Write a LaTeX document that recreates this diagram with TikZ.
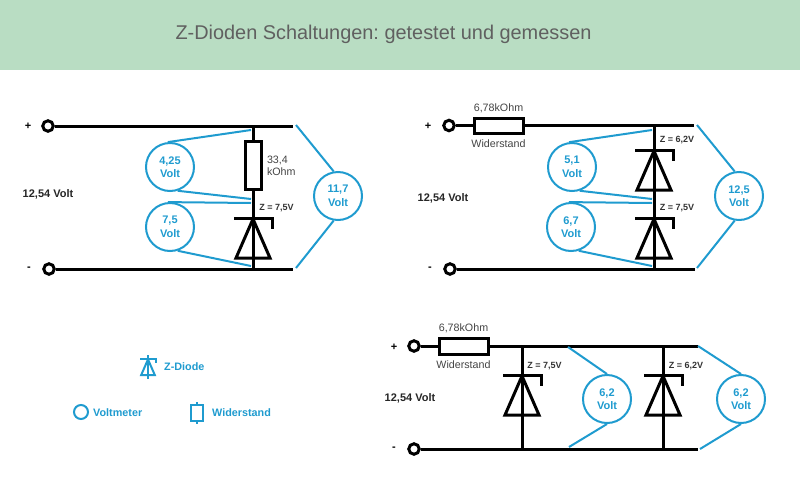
\documentclass[tikz,border=0pt]{standalone}
\usepackage{fontspec}
\setmainfont{Liberation Sans}
\usepackage{xcolor}
\usetikzlibrary{positioning, arrows.meta}
\definecolor{headgreen}{HTML}{B9DDC3}
\definecolor{meterblue}{HTML}{1F9BCF}
\definecolor{textgray}{HTML}{444444}
\frenchspacing

\begin{document}
\begin{tikzpicture}[
    x=1pt, y=-1pt,
    node distance=2pt,
    wire/.style={draw=black, line width=3pt},
    resistor/.style={rectangle, draw=black, line width=3pt, fill=white, inner sep=0pt},
    terminal/.style={circle, draw=black, line width=3pt, fill=white, inner sep=0pt, minimum size=10.5pt},
    meter/.style={circle, draw=meterblue, line width=2pt, inner sep=0pt, minimum size=48pt, align=center, text=meterblue,
        font=\fontsize{11}{13.5}\selectfont\bfseries},
    probe/.style={draw=meterblue, line width=2pt},
    sign/.style={font=\fontsize{11}{12}\selectfont\bfseries},
    supply/.style={font=\fontsize{11}{12}\selectfont\bfseries, text=black!85},
    zlabel/.style={font=\fontsize{9}{10}\selectfont\bfseries, text=black!80},
    rlabel/.style={font=\fontsize{10.7}{12}\selectfont, text=textgray, align=left},
    legend/.style={font=\fontsize{10.8}{12}\selectfont\bfseries, text=meterblue, inner sep=0pt},
    pics/zdiode/.style={code={
        \draw (-19,0) -- (19,0) -- (19,11);
        \draw (0,1) -- (17,40) -- (-17,40) -- cycle;
    }}
]
    % Header
    \path[fill=headgreen] (0,0) rectangle (800,70);
    \path[use as bounding box] (0,0) rectangle (800,485);
    \node[font=\fontsize{19.9}{22}\selectfont, text=textgray!85] (title) at (383.5,34) {Z-Dioden Schaltungen: getestet und gemessen};

    % Circuit top left
    \node[terminal] (a1) at (48,126) {};
    \node[terminal] (a2) at (49,269) {};
    \coordinate (a1end) at (293,125);
    \coordinate (a2end) at (293,269);
    \coordinate (a1t) at (253,125);
    \coordinate (a2t) at (253,269);
    \draw[wire] (a1) -- (a1 -| a1end) (a2) -- (a2 -| a2end);
    \draw[wire] (a1t) -- (a2t);
    \node[resistor, minimum width=16pt, minimum height=48pt] (ar) at (253,165) {};
    \pic[line width=3pt, line join=miter] at (253,218) {zdiode};
    \node[sign] (aplus) at (28,126) {+};
    \node[sign] (aminus) at (29,269) {-};
    \node[supply] (asupply) at (48,194) {12,54 Volt};
    \node[rlabel, right=1pt of ar, yshift=-1pt] (arlabel) {33,4\\kOhm};
    \node[zlabel] (az) at (276.5,208) {Z = 7,5V};
    \node[meter] (av1) at (170,167) {4,25\\Volt};
    \node[meter] (av2) at (170,227) {7,5\\Volt};
    \node[meter] (av3) at (338,196) {11,7\\Volt};
    \coordinate (ap1) at (251,130);
    \coordinate (ap2) at (251,199);
    \coordinate (ap3) at (251,203);
    \coordinate (ap4) at (251,266);
    \coordinate (ap5) at (296,125);
    \coordinate (ap6) at (296,268);
    \draw[probe] (av1.95) -- (ap1);
    \draw[probe] (av1.-72) -- (ap2);
    \draw[probe] (av2.95) -- (ap3);
    \draw[probe] (av2.-72) -- (ap4);
    \draw[probe] (av3.100) -- (ap5);
    \draw[probe] (av3.-100) -- (ap6);

    % Circuit top right
    \node[terminal] (b1) at (449,125.5) {};
    \node[terminal] (b2) at (450,269) {};
    \node[resistor, minimum width=49pt, minimum height=15pt] (br) at (498.5,125.5) {};
    \coordinate (b1end) at (694,125.5);
    \coordinate (b2end) at (695,269);
    \coordinate (b1t) at (654,125);
    \coordinate (b2t) at (654,269);
    \draw[wire] (b1) -- (br) -- (b1end);
    \draw[wire] (b2) -- (b2end);
    \draw[wire] (b1t) -- (b2t);
    \pic[line width=3pt, line join=miter] at (654,150) {zdiode};
    \pic[line width=3pt, line join=miter] at (654,218) {zdiode};
    \node[sign] (bplus) at (428,126) {+};
    \node[sign] (bminus) at (430,269) {-};
    \node[supply] (bsupply) at (443,198) {12,54 Volt};
    \node[rlabel, above=0pt of br] (brtop) {6,78kOhm};
    \node[rlabel, below=of br] (brbot) {Widerstand};
    \node[zlabel] (bz1) at (677,140) {Z = 6,2V};
    \node[zlabel] (bz2) at (677,208) {Z = 7,5V};
    \node[meter] (bv1) at (572,167) {5,1\\Volt};
    \node[meter] (bv2) at (571,227) {6,7\\Volt};
    \node[meter] (bv3) at (739,196) {12,5\\Volt};
    \coordinate (bp1) at (652,130);
    \coordinate (bp2) at (652,199);
    \coordinate (bp3) at (652,203);
    \coordinate (bp4) at (652,266);
    \coordinate (bp5) at (697,125);
    \coordinate (bp6) at (697,268);
    \draw[probe] (bv1.97) -- (bp1);
    \draw[probe] (bv1.-72) -- (bp2);
    \draw[probe] (bv2.95) -- (bp3);
    \draw[probe] (bv2.-72) -- (bp4);
    \draw[probe] (bv3.100) -- (bp5);
    \draw[probe] (bv3.-100) -- (bp6);

    % Circuit bottom
    \node[terminal] (c1) at (414,346) {};
    \node[terminal] (c2) at (414,449) {};
    \node[resistor, minimum width=49pt, minimum height=16pt] (cr) at (463.5,346) {};
    \coordinate (c1end) at (698,346);
    \coordinate (c2end) at (698,449);
    \coordinate (c1s) at (522,346);
    \coordinate (c2s) at (522,449);
    \coordinate (c1e) at (663,346);
    \coordinate (c2e) at (663,449);
    \draw[wire] (c1) -- (cr) -- (c1end);
    \draw[wire] (c2) -- (c2end);
    \draw[wire] (c1s) -- (c2s);
    \draw[wire] (c1e) -- (c2e);
    \pic[line width=3pt, line join=miter] at (522,375) {zdiode};
    \pic[line width=3pt, line join=miter] at (663,375) {zdiode};
    \node[sign] (cplus) at (394,347) {+};
    \node[sign] (cminus) at (394,449) {-};
    \node[supply] (csupply) at (410,398) {12,54 Volt};
    \node[rlabel, above=0pt of cr] (crtop) {6,78kOhm};
    \node[rlabel, below=of cr] (crbot) {Widerstand};
    \node[zlabel] (cz1) at (544.5,366) {Z = 7,5V};
    \node[zlabel] (cz2) at (686,366) {Z = 6,2V};
    \node[meter] (cv1) at (607,399) {6,2\\Volt};
    \node[meter] (cv2) at (741,399) {6,2\\Volt};
    \coordinate (cp1) at (568,347);
    \coordinate (cp2) at (569,447);
    \coordinate (cp3) at (698,346);
    \coordinate (cp4) at (700,449);
    \draw[probe] (cv1.90) -- (cp1);
    \draw[probe] (cv1.-90) -- (cp2);
    \draw[probe] (cv2.90) -- (cp3);
    \draw[probe] (cv2.-90) -- (cp4);

    % Legend
    \coordinate (lzt) at (148,355);
    \coordinate (lzb) at (148,379);
    \draw[probe] (lzt) -- (lzb);
    \pic[scale=0.4, color=meterblue, line width=2pt] at (148,359) {zdiode};
    \node[legend, anchor=west] (lz) at (164,367) {Z-Diode};
    \node[circle, draw=meterblue, line width=2pt, minimum size=14pt, inner sep=0pt] (lv) at (81,412) {};
    \node[legend, anchor=west] (lvt) at (93,413) {Voltmeter};
    \coordinate (lrt) at (197,402);
    \coordinate (lrb) at (197,424);
    \draw[probe] (lrt) -- (lrb);
    \node[draw=meterblue, fill=white, line width=2pt, minimum width=12pt, minimum height=16pt, inner sep=0pt] (lr) at (197,413) {};
    \node[legend, anchor=west] (lrl) at (212,413) {Widerstand};
\end{tikzpicture}
\end{document}
